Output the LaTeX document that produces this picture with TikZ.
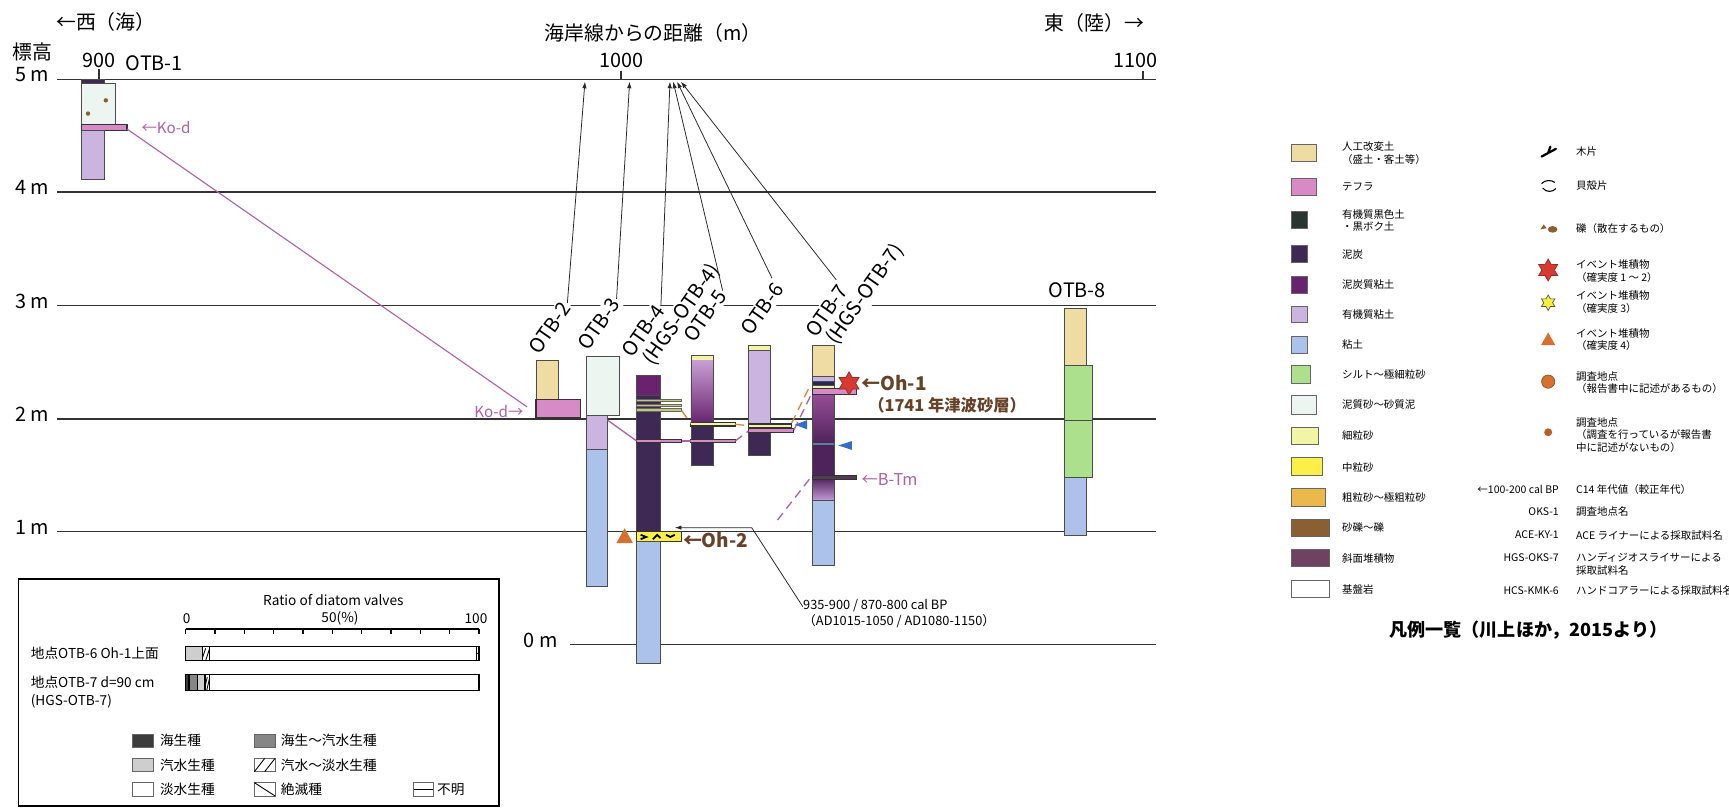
\documentclass[tikz,border=0pt]{standalone}
\usepackage{fontspec}
\setmainfont{Noto Sans CJK JP}
\usetikzlibrary{arrows.meta,calc,shapes.geometric}

% soil and marker colours
\definecolor{artsoil}{RGB}{238,220,162}
\definecolor{tephra}{RGB}{214,138,198}
\definecolor{blksoil}{RGB}{42,52,48}
\definecolor{peat}{RGB}{62,40,84}
\definecolor{peatclay}{RGB}{104,34,110}
\definecolor{orgclay}{RGB}{204,180,224}
\definecolor{clay}{RGB}{172,194,234}
\definecolor{silt}{RGB}{172,224,140}
\definecolor{sandmud}{RGB}{236,245,240}
\definecolor{finesand}{RGB}{242,245,165}
\definecolor{medsand}{RGB}{250,240,72}
\definecolor{crssand}{RGB}{236,184,76}
\definecolor{gravel}{RGB}{138,96,50}
\definecolor{slope}{RGB}{112,66,98}
\definecolor{olive}{RGB}{196,200,120}
\definecolor{grayline}{RGB}{90,130,150}
\definecolor{btm}{RGB}{82,60,84}
\definecolor{purtop}{RGB}{200,160,212}
\definecolor{purmid}{RGB}{150,78,150}
\definecolor{purdark}{RGB}{78,34,90}
\definecolor{purlow}{RGB}{192,152,212}
\definecolor{kod}{RGB}{176,96,164}
\definecolor{ohbrown}{RGB}{104,66,40}
\definecolor{evred}{RGB}{214,58,48}
\definecolor{evorange}{RGB}{214,112,48}
\definecolor{evyellow}{RGB}{250,240,60}
\definecolor{mkblue}{RGB}{52,108,200}
\definecolor{seddash}{RGB}{224,132,60}
\definecolor{dmarine}{RGB}{60,60,60}
\definecolor{dmix}{RGB}{134,134,134}
\definecolor{dbrack}{RGB}{206,206,206}

\newcommand{\fbig}{\fontsize{9}{10.5}\selectfont}
\newcommand{\fko}{\fontsize{6.9}{8}\selectfont}
\newcommand{\foh}{\fontsize{8.6}{10}\selectfont\bfseries}
\newcommand{\fohs}{\fontsize{7.4}{9}\selectfont\bfseries}
\newcommand{\fbtm}{\fontsize{7.4}{9}\selectfont}
\newcommand{\fdate}{\fontsize{5.8}{6.9}\selectfont}
\newcommand{\fdia}{\fontsize{6.2}{7.5}\selectfont}
\newcommand{\fleg}{\fontsize{4.75}{5.75}\selectfont}
\newcommand{\ftitle}{\fontsize{8.2}{10}\selectfont\bfseries}

\begin{document}
\begin{tikzpicture}[x=0.5pt,y=-0.5pt,
  lvl/.style={line width=0.8pt,black!80},
  lyr/.style={draw=black!70,line width=0.4pt},
  band/.style={draw=black!80,line width=0.5pt},
  tag/.style={font=\fbig,inner sep=1pt},
  bore/.style={font=\fbig,inner sep=0.8pt,rotate=55,anchor=base west,fill=white},
  ptr/.style={-{Latex[length=3pt,width=2pt]},line width=0.35pt,black!85},
  tie/.style={line width=0.6pt,dash pattern=on 4pt off 2.5pt},
  evstar/.style={star,star points=6,star point ratio=1.75,inner sep=0pt,line width=0.3pt},
  dtxt/.style={font=\fdia,inner sep=0.5pt},
  swatch/.style={draw=black!60,line width=0.35pt},
  legtxt/.style={font=\fleg,inner sep=0pt,anchor=west,align=left}]

\useasboundingbox (0,0) rectangle (1568,733);
\fill[white] (0,0) rectangle (1568,733);

% header
\node[tag,anchor=west] (west) at (48.6,19.7) {←西（海）};
\node[tag,anchor=west] (dist) at (491.6,30.2) {海岸線からの距離（m）};
\node[tag,anchor=east] (east) at (1040,21.2) {東（陸）→};
\node[tag,anchor=west] (elev) at (8.7,46.9) {標高};

% elevation lines
\foreach \h/\yy in {5/72,4/174,3/277,2/380,1/482}{
  \draw[lvl] (52,\yy) -- (1048,\yy);
  \node[tag,anchor=east] (e\h) at (47,\yy-4) {\h\ m};
}
\draw[lvl] (517,584.5) -- (1048,584.5);
\node[tag,anchor=east] (e0) at (508,581) {0 m};

% distance ticks
\draw[lvl] (90,63) -- (90,72);
\draw[lvl] (563.5,64) -- (563.5,72);
\draw[lvl] (1036.5,64) -- (1036.5,72);
\node[tag] (d900) at (90,54.4) {900};
\node[tag] (d1000) at (563.5,54.4) {1000};
\node[tag] (d1100) at (1030,54.4) {1100};

% borehole names
\node[tag,anchor=west] (b1) at (111.7,57.4) {OTB-1};
\node[bore] (b2) at (488,324) {OTB-2};
\node[bore] (b3) at (532.6,320.4) {OTB-3};
\node[bore] (b4h) at (591.1,333.6) {(HGS-OTB-4)};
\node[bore] (b4) at (572.8,326.5) {OTB-4};
\node[bore] (b5) at (628.8,312.9) {OTB-5};
\node[bore] (b6) at (680.8,306.8) {OTB-6};
\node[bore] (b7h) at (757.4,315.4) {(HGS-OTB-7)};
\node[bore] (b7) at (739.1,308.3) {OTB-7};
\node[tag] (b8) at (977,263) {OTB-8};

% positions on the shoreline distance axis
\coordinate (t2) at (530.5,74);
\coordinate (t3) at (571,74);
\coordinate (t4) at (607.6,74);
\coordinate (t5) at (610.5,74);
\coordinate (t6) at (614,74);
\coordinate (t7) at (617.5,74);
\draw[ptr] (b2.east) -- (t2);
\draw[ptr] (b3.east) -- (t3);
\draw[ptr] (b4.east) -- (t4);
\draw[ptr] (b5.east) -- (t5);
\draw[ptr] (b6.north east) -- (t6);
\draw[ptr] (b7.north east) -- (t7);

% OTB-1
\filldraw[lyr,fill=peat] (74,72) rectangle (94.4,76);
\filldraw[lyr,fill=sandmud] (74,76) rectangle (104.8,113);
\filldraw[band,fill=tephra] (74,113) rectangle (115.2,118);
\filldraw[lyr,fill=orgclay] (74,118) rectangle (94.4,163);
\fill[gravel] (96,91) circle (1pt) (79.8,103) circle (1pt);

% Ko-d correlation
\draw[kod,line width=0.5pt] (115.2,117) -- (478,369);
\node[tag,font=\fko,text=kod,anchor=west] (kod1) at (126,116) {←Ko-d};
\node[tag,font=\fko,text=kod,anchor=east] (kod2) at (477,373) {Ko-d→};

% OTB-2
\filldraw[lyr,fill=artsoil] (486.1,327.1) rectangle (506.3,362.1);
\filldraw[band,fill=tephra] (486.1,362.1) rectangle (526.6,378.5);

% OTB-3
\filldraw[lyr,fill=sandmud] (531.4,323.7) rectangle (561.4,376.4);
\filldraw[lyr,fill=orgclay] (531.4,376.4) rectangle (551,408);
\filldraw[lyr,fill=clay] (531.4,408) rectangle (551,532);

% OTB-4
\filldraw[lyr,fill=peatclay] (577.4,340.7) rectangle (598.5,358.2);
\filldraw[lyr,fill=peat] (577.4,358.2) rectangle (598.5,482);
\foreach \yy in {363.4,367.5,371.6}
  \filldraw[draw=black!60,line width=0.3pt,fill=olive] (577.4,\yy-1) rectangle (618.2,\yy+1);
\filldraw[band,fill=tephra] (577.4,398.5) rectangle (618.2,401.5);
\filldraw[band,fill=medsand] (577.4,482) rectangle (618.2,491.3);
\draw[line width=0.8pt] (581,485) -- (586,487) -- (581,489) (592,489) -- (596,485) -- (599,488) (604,485) -- (608,487) -- (612,485);
\filldraw[lyr,fill=clay] (577.4,491.3) rectangle (598.5,601.5);
\fill[evorange] (559,492.5) -- (566.5,479) -- (574,492.5) -- cycle;

% OTB-5
\filldraw[lyr,fill=finesand] (626.6,322) rectangle (646.9,326.5);
\shade[top color=purtop,bottom color=peatclay] (626.6,326.5) rectangle (646.9,384);
\fill[peat] (626.6,384) rectangle (646.9,422.3);
\draw[lyr] (626.6,322) rectangle (646.9,422.3);
\filldraw[band,fill=finesand] (626.6,383.3) rectangle (666.6,386.3);
\filldraw[band,fill=tephra] (626.6,398.5) rectangle (666.6,401.5);

% OTB-6
\filldraw[lyr,fill=finesand] (678.6,312.9) rectangle (698.3,317.4);
\filldraw[lyr,fill=orgclay] (678.6,317.4) rectangle (698.3,384.5);
\filldraw[lyr,fill=peat] (678.6,384.5) rectangle (698.3,412.6);
\filldraw[band,fill=finesand] (678.6,384.5) rectangle (718,387.6);
\filldraw[band,fill=tephra] (678.6,388.4) rectangle (719.4,392.4);

% OTB-7
\filldraw[lyr,fill=artsoil] (737,312.9) rectangle (756.3,341.6);
\filldraw[lyr,fill=orgclay] (737,341.6) rectangle (756.3,346.1);
\filldraw[lyr,fill=blksoil!80!blue] (737,346.1) rectangle (756.3,349.2);
\filldraw[lyr,fill=finesand] (737,349.2) rectangle (756.3,352.2);
\shade[top color=purmid,bottom color=purdark] (737,357.6) rectangle (756.3,403);
\fill[purdark] (737,403) rectangle (756.3,433);
\shade[top color=purdark,bottom color=purlow] (737,433) rectangle (756.3,453.4);
\draw[grayline,line width=1pt] (737,403) -- (756.3,403);
\filldraw[lyr,fill=clay] (737,453.4) rectangle (756.3,513);
\draw[lyr] (737,312.9) rectangle (756.3,513);
\filldraw[band,fill=tephra] (737,352.2) rectangle (777,357.6);
\filldraw[band,fill=btm] (737,431.6) rectangle (777,434.6);

% OTB-8
\filldraw[lyr,fill=artsoil] (965,279.6) rectangle (985,331);
\filldraw[lyr,fill=silt] (965,331) rectangle (990.6,381);
\filldraw[lyr,fill=silt] (965,381) rectangle (990.6,433.2);
\filldraw[lyr,fill=clay] (965,433.2) rectangle (985,485.2);

% correlation ties
\draw[kod,line width=0.6pt] (551,381) -- (577.4,400);
\draw[tie,seddash] (618.2,372.5) -- (626.6,384);
\draw[tie,seddash] (666.6,384.8) -- (678.6,386);
\draw[tie,seddash] (718,383.5) -- (734,351);
\draw[tie,kod] (618.2,400) -- (626.6,400);
\draw[tie,kod] (666.6,400) -- (678.6,391);
\draw[tie,kod] (720,390) -- (737,355);
\draw[tie,kod] (734,434.6) -- (704,473);

% event markers
\fill[mkblue] (721,385.2) -- (732,381) -- (732,389.4) -- cycle;
\fill[mkblue] (760.3,404) -- (772.6,400) -- (772.6,408) -- cycle;
\node[evstar,minimum size=10.5pt,fill=evred,draw=evred!70!black] (oh1s) at (770,347.6) {};

% event labels
\node[tag,font=\foh,text=ohbrown,anchor=west,inner sep=0pt] (oh1) at (781,347) {←Oh-1};
\node[tag,font=\fohs,text=ohbrown,anchor=west,inner sep=0pt] (oh1y) at (787,367.3) {（1741 年津波砂層）};
\node[tag,font=\foh,text=ohbrown,anchor=west,inner sep=0pt] (oh2) at (619,490) {←Oh-2};
\node[tag,font=\fbtm,text=kod,anchor=west,inner sep=0pt] (btml) at (781,435.3) {←B-Tm};

% radiocarbon age of Oh-2
\node[font=\fdate,align=left,anchor=north west,inner sep=0pt] (c14) at (728,543.5) {935-900 / 870-800 cal BP\\（AD1015-1050 / AD1080-1150）};
\coordinate (c14bend) at (681.7,478.5);
\coordinate (oh2top) at (612,478.5);
\draw[ptr] ([yshift=-3.3pt]c14.north west) -- (c14bend) -- (oh2top);

% diatom ratio panel
\draw[line width=0.6pt] (16.6,525) rectangle (452.5,731);
\node[dtxt] (ratio) at (302.3,544) {Ratio of diatom valves};
\node[dtxt] (p0) at (169.3,560.7) {0};
\node[dtxt] (p50) at (308.3,561) {50(\%)};
\node[dtxt] (p100) at (431.7,561) {100};
\draw[line width=0.5pt] (168.4,570.4) -- (434.4,570.4);
\foreach \k in {0,...,10}
  \draw[line width=0.5pt] (168.4+26.6*\k,570.4) -- (168.4+26.6*\k,575);

\node[dtxt,anchor=west] (r6) at (26.6,592.3) {地点OTB-6 Oh-1上面};
\filldraw[line width=0.5pt,fill=dbrack] (168.4,586) rectangle (183.5,599);
\draw[line width=0.5pt] (183.5,586) rectangle (434.4,599);
\draw[line width=0.4pt] (183.5,597) -- (186.5,588) (186.5,599) -- (189.8,589);
\draw[line width=0.5pt] (189.8,586) -- (189.8,599) (432.3,586) -- (432.3,599);
\draw[line width=0.4pt] (432.3,592.5) -- (434.4,592.5);

\node[dtxt,anchor=west] (r7) at (26.6,619) {地点OTB-7 d=90 cm};
\node[dtxt,anchor=west] (r7h) at (26.6,636.3) {(HGS-OTB-7)};
\filldraw[line width=0.5pt,fill=dmarine] (168.4,612) rectangle (171.4,626);
\filldraw[line width=0.5pt,fill=dmix] (171.4,612) rectangle (179.3,626);
\filldraw[line width=0.5pt,fill=dbrack] (179.3,612) rectangle (185.9,626);
\draw[line width=0.5pt] (185.9,612) rectangle (434.4,626);
\draw[line width=0.4pt] (185.9,623) -- (188,614) (187.5,626) -- (189.8,616);
\draw[line width=0.5pt] (189.8,612) -- (189.8,626);

% diatom legend
\filldraw[swatch,fill=dmarine] (120,665.7) rectangle (139,677.7);
\node[dtxt,anchor=west] (k1) at (143.7,671.7) {海生種};
\filldraw[swatch,fill=dmix] (230.7,665.7) rectangle (249.4,677.7);
\node[dtxt,anchor=west] (k2) at (253.4,671.7) {海生～汽水生種};
\filldraw[swatch,fill=dbrack] (120,687.8) rectangle (139,699.8);
\node[dtxt,anchor=west] (k3) at (143.7,693.8) {汽水生種};
\draw[swatch] (230.7,687.8) rectangle (249.4,699.8);
\draw[line width=0.4pt] (230.7,699.8) -- (240,687.8) (240,699.8) -- (249.4,687.8);
\node[dtxt,anchor=west] (k4) at (253.4,693.8) {汽水～淡水生種};
\draw[swatch] (120,709.8) rectangle (139,721.8);
\node[dtxt,anchor=west] (k5) at (143.7,715.8) {淡水生種};
\draw[swatch] (230.7,709.8) rectangle (249.4,721.8);
\draw[line width=0.4pt] (230.7,709.8) -- (249.4,721.8);
\node[dtxt,anchor=west] (k6) at (253.4,715.8) {絶滅種};
\draw[swatch] (375,709.8) rectangle (393,721.8);
\draw[line width=0.4pt] (375,715.8) -- (393,715.8);
\node[dtxt,anchor=west] (k7) at (395,715.8) {不明};

% legend: sediments
\foreach \c/\xr/\ya/\yb/\ty/\txt in {
  artsoil/1193.4/130.6/146.6/138.8/{人工改変土\\（盛土・客土等）},
  tephra/1193.4/161.7/176.8/169.3/{テフラ},
  blksoil/1185.6/192/207/200/{有機質黒色土\\・黒ボク土},
  peat/1185.6/222.2/238.2/230.6/{泥炭},
  peatclay/1185.6/250.3/266/257.8/{泥炭質粘土},
  orgclay/1185.6/277.5/292.6/285/{有機質粘土},
  clay/1185.6/304.7/320.4/312/{粘土},
  silt/1188.6/331.3/347.6/340/{シルト～極細粒砂},
  sandmud/1193.4/359/375.4/367.3/{泥質砂～砂質泥},
  finesand/1195.6/387.5/403/395.1/{細粒砂},
  medsand/1199.2/414.7/430.8/424/{中粒砂},
  crssand/1202.2/442.8/459.5/451.3/{粗粒砂～極粗粒砂},
  gravel/1205.5/471/486.7/478.5/{砂礫～礫},
  slope/1205.5/498.2/513.9/506.3/{斜面堆積物},
  white/1205.5/526/541.7/534.4/{基盤岩}}{
  \filldraw[swatch,fill=\c] (1171.4,\ya) rectangle (\xr,\yb);
  \node[legtxt] (lg-\c) at (1216.7,\ty) {\txt};
}

% legend: symbols
\draw[line width=1pt,line cap=round] (1398,142) -- (1411,135) (1404,138.5) -- (1406,133);
\node[legtxt] (sy1) at (1429,137.5) {木片};
\draw[line width=0.5pt] (1398,166.5) .. controls (1401,163) and (1407,163) .. (1410,165.5);
\draw[line width=0.5pt] (1399,170.5) .. controls (1402,174.5) and (1408,174.5) .. (1411,171);
\node[legtxt] (sy2) at (1429,168.7) {貝殻片};
\fill[gravel] (1397,208) -- (1400,203.5) -- (1402.5,207) -- cycle;
\fill[gravel] (1408,208) ellipse (2.2pt and 1.5pt);
\node[legtxt] (sy3) at (1429,207) {礫（散在するもの）};
\node[evstar,minimum size=10pt,fill=evred,draw=evred!70!black] (sy4s) at (1404,244.9) {};
\node[legtxt] (sy4) at (1429,245.6) {イベント堆積物\\（確実度 1 ～ 2）};
\node[evstar,minimum size=7pt,fill=evyellow,draw=black!70] (sy5s) at (1404,274.5) {};
\node[legtxt] (sy5) at (1429,273.9) {イベント堆積物\\（確実度 3）};
\fill[evorange] (1397.5,313) -- (1404,301.5) -- (1410.5,313) -- cycle;
\node[legtxt] (sy6) at (1429,308) {イベント堆積物\\（確実度 4）};
\filldraw[fill=evorange,draw=evorange!70!black,line width=0.3pt] (1404,346.1) circle (3pt);
\node[legtxt] (sy7) at (1429,347) {調査地点\\（報告書中に記述があるもの）};
\fill[evorange!85!black] (1404,392) circle (1.8pt);
\node[legtxt] (sy8) at (1429,394.5) {調査地点\\（調査を行っているが報告書\\中に記述がないもの）};

% legend: labels used on the section
\node[legtxt,anchor=east] (cd1) at (1414,443.5) {←100-200 cal BP};
\node[legtxt] (ds1) at (1429,443.5) {C14 年代値（較正年代）};
\node[legtxt,anchor=east] (cd2) at (1414,464) {OKS-1};
\node[legtxt] (ds2) at (1429,464) {調査地点名};
\node[legtxt,anchor=east] (cd3) at (1414,485.2) {ACE-KY-1};
\node[legtxt] (ds3) at (1429,485.2) {ACE ライナーによる採取試料名};
\node[legtxt,anchor=east] (cd4) at (1414,505.4) {HGS-OKS-7};
\node[legtxt] (ds4) at (1429,511.2) {ハンディジオスライサーによる\\採取試料名};
\node[legtxt,anchor=east] (cd5) at (1414,535.7) {HCS-KMK-6};
\node[legtxt] (ds5) at (1429,535.7) {ハンドコアラーによる採取試料名};

\node[font=\ftitle,inner sep=0pt] (legtitle) at (1386,571.3) {凡例一覧（川上ほか，2015より）};

\end{tikzpicture}
\end{document}
